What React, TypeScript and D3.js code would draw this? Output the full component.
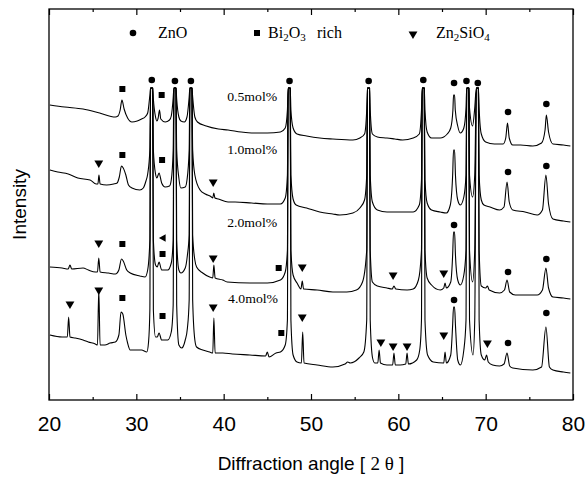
import React, { useEffect, useRef } from 'react';
import * as d3 from 'd3';

// angle (2θ), intensity in arbitrary units (offset stacked traces)
const trace05: [number, number][] = [[20.1,295],[21.8,293],[23.9,291],[25.8,287],[27.6,283],[27.9,284],[28.15,290],[28.35,300],[28.6,291],[29.0,282],[29.5,278],[30.1,279],[30.6,281],[31.0,283],[31.3,287],[31.55,305],[31.63,312],[31.87,312],[31.95,301],[32.2,283],[32.35,279],[32.5,282],[32.65,290],[32.8,281],[33.3,278],[33.8,280],[34.0,284],[34.22,302],[34.3,312],[34.54,312],[34.62,301],[34.87,283],[35.1,279],[35.5,278],[35.8,283],[36.05,303],[36.13,312],[36.37,312],[36.45,303],[36.7,283],[37.0,278],[38.0,274],[39.4,271],[40.5,270],[42.0,268],[43.2,267],[45.0,267],[46.5,268],[47.05,272],[47.3,290],[47.38,312],[47.62,312],[47.7,290],[47.95,272],[48.4,266],[49.5,264],[51.0,262],[52.5,261],[54.8,260],[55.6,262],[56.13,266],[56.38,290],[56.46,312],[56.7,312],[56.78,290],[57.03,266],[57.6,263],[58.7,262],[59.6,261],[60.5,260],[61.7,262],[62.4,266],[62.65,290],[62.73,312],[62.97,312],[63.05,290],[63.3,268],[63.8,262],[64.8,262],[65.6,266],[66.0,272],[66.25,290],[66.32,305],[66.44,305],[66.52,290],[66.8,274],[67.1,267],[67.5,272],[67.75,292],[67.83,312],[68.07,312],[68.15,292],[68.5,274],[68.75,292],[68.93,312],[69.17,312],[69.25,292],[69.5,266],[70.0,258],[71.0,256],[72.0,256],[72.3,262],[72.5,277],[72.7,262],[73.1,255],[74.0,255],[75.4,254],[76.4,257],[76.8,270],[76.95,285],[77.2,268],[77.7,256],[78.9,255],[79.7,254]];

const trace10: [number, number][] = [[20.1,230],[21.0,228],[22.2,226],[23.3,222],[24.7,220],[25.4,216],[25.6,216],[25.72,225],[25.85,216],[26.6,215],[27.4,216],[27.8,217],[28.05,223],[28.3,234],[28.5,232],[28.8,225],[29.1,215],[29.5,212],[30.4,210],[30.8,212],[31.1,219],[31.3,226],[31.55,250],[31.63,312],[31.87,312],[31.95,250],[32.2,226],[32.35,222],[32.6,227],[32.9,217],[33.3,213],[33.8,214],[34.0,220],[34.22,250],[34.3,312],[34.54,312],[34.62,250],[34.87,222],[35.1,212],[35.6,213],[35.8,220],[36.05,250],[36.13,312],[36.37,312],[36.45,250],[36.7,225],[37.3,210],[37.9,206],[38.6,203],[38.75,202],[38.87,207],[39.0,202],[39.4,201],[40.5,198],[41.3,198],[43.2,197],[45.0,196],[46.5,196],[47.05,202],[47.3,225],[47.38,312],[47.62,312],[47.7,225],[47.95,201],[48.3,195],[49.5,192],[51.0,188],[52.5,186],[53.3,185],[54.8,187],[55.6,192],[56.13,200],[56.38,225],[56.46,312],[56.7,312],[56.78,225],[57.03,198],[57.6,190],[58.7,188],[60.5,188],[61.7,188],[62.4,195],[62.65,220],[62.73,312],[62.97,312],[63.05,220],[63.3,197],[63.8,190],[64.8,188],[65.5,187],[65.95,195],[66.22,225],[66.32,250],[66.44,250],[66.54,225],[66.8,200],[67.1,195],[67.5,203],[67.75,225],[67.83,312],[68.07,312],[68.15,225],[68.5,203],[68.75,225],[68.93,312],[69.17,312],[69.25,225],[69.5,200],[69.8,195],[70.5,193],[71.6,190],[72.1,193],[72.45,218],[72.7,198],[73.1,190],[74.5,188],[75.9,185],[76.5,190],[76.9,225],[77.2,196],[77.7,181],[78.9,179],[79.7,178]];

const trace20: [number, number][] = [[20.1,133],[21.5,132],[22.2,131],[22.4,135],[22.6,131],[23.9,132],[24.5,130],[25.3,128],[25.55,128],[25.7,142],[25.85,128],[26.8,127],[27.6,126],[28.0,130],[28.3,141],[28.5,139],[28.9,130],[29.3,127],[30.4,124],[31.0,123],[31.3,130],[31.55,160],[31.63,312],[31.87,312],[31.95,160],[32.2,135],[32.4,133],[32.6,138],[32.9,130],[33.6,130],[34.0,137],[34.22,160],[34.3,312],[34.54,312],[34.62,160],[34.87,130],[35.1,127],[35.6,132],[35.85,145],[36.05,165],[36.13,312],[36.37,312],[36.45,165],[36.7,140],[36.9,133],[37.6,127],[38.4,123],[38.75,122],[38.88,135],[39.02,122],[39.9,120],[40.4,118],[43.0,117],[45.0,117],[46.5,120],[47.05,128],[47.3,150],[47.38,312],[47.62,312],[47.7,150],[47.95,125],[48.4,117],[48.85,111],[49.0,119],[49.15,111],[50.7,110],[52.5,108],[54.1,108],[55.2,110],[55.9,118],[56.38,150],[56.46,312],[56.7,312],[56.78,150],[57.03,118],[57.6,114],[58.7,112],[59.3,111],[59.5,114],[59.7,111],[61.0,110],[61.7,111],[62.3,120],[62.65,150],[62.73,312],[62.97,312],[63.05,150],[63.3,122],[63.8,115],[64.8,110],[65.2,112],[65.35,117],[65.5,112],[66.0,118],[66.22,145],[66.32,168],[66.44,168],[66.54,145],[66.8,120],[67.1,115],[67.5,125],[67.75,150],[67.83,312],[68.07,312],[68.15,150],[68.5,118],[68.75,150],[68.93,312],[69.17,312],[69.25,150],[69.5,114],[70.0,112],[70.2,114],[70.4,110],[71.6,107],[72.15,110],[72.45,120],[72.75,108],[73.4,105],[75.9,105],[76.5,110],[76.9,132],[77.2,112],[77.7,103],[78.9,102],[79.7,101]];

const trace40: [number, number][] = [[20.1,65],[21.5,63],[22.1,63],[22.25,83],[22.4,63],[23.0,62],[23.9,60],[24.5,58],[25.3,56],[25.55,55],[25.7,110],[25.85,55],[26.4,55],[27.0,57],[27.6,58],[28.0,65],[28.25,88],[28.45,86],[28.8,65],[29.0,57],[29.3,50],[30.6,50],[31.2,48],[31.4,58],[31.55,90],[31.63,312],[31.87,312],[31.95,90],[32.2,63],[32.4,63],[32.6,67],[32.9,60],[33.6,60],[34.0,68],[34.22,95],[34.3,312],[34.54,312],[34.62,95],[34.87,55],[35.2,52],[35.6,60],[35.85,72],[36.05,100],[36.13,312],[36.37,312],[36.45,100],[36.7,60],[36.9,53],[37.6,50],[38.4,48],[38.75,47],[38.88,82],[39.02,47],[39.9,47],[41.0,46],[43.0,45],[44.8,44],[45.0,48],[45.2,43],[46.0,47],[46.5,48],[47.05,55],[47.3,80],[47.38,312],[47.62,312],[47.7,80],[47.95,45],[48.4,38],[48.9,37],[49.05,68],[49.2,37],[50.7,35],[52.5,33],[53.9,36],[54.2,38],[54.5,37],[55.5,42],[56.05,48],[56.38,80],[56.46,312],[56.7,312],[56.78,80],[57.05,42],[57.3,37],[57.65,37],[57.8,50],[57.95,37],[58.7,35],[59.35,35],[59.5,47],[59.65,35],[60.2,35],[60.85,36],[61.0,47],[61.15,36],[62.1,40],[62.45,50],[62.65,80],[62.73,312],[62.97,312],[63.05,80],[63.35,45],[64.0,38],[65.2,37],[65.35,48],[65.5,37],[66.0,45],[66.22,75],[66.32,93],[66.44,93],[66.54,75],[66.8,40],[67.1,35],[67.5,50],[67.75,80],[67.83,312],[68.07,312],[68.15,80],[68.55,45],[68.75,80],[68.93,312],[69.17,312],[69.25,80],[69.5,45],[69.9,40],[70.1,45],[70.3,38],[70.8,35],[71.6,34],[72.1,36],[72.45,47],[72.75,34],[73.1,32],[75.4,30],[76.4,33],[76.9,73],[77.3,33],[77.7,30],[78.9,28],[79.7,27]];

const traces = [trace05, trace10, trace20, trace40];

const sampleLabels = ['0.5mol%', '1.0mol%', '2.0mol%', '4.0mol%'];
const sampleLabelPos: [number, number][] = [[40.4, 303], [40.4, 250], [40.4, 177], [40.5, 101]];

// phase markers [angle, intensity]
const znoMarks: [number, number][] = [[31.77,320],[34.42,319],[36.25,319],[47.54,319],[56.6,319],[62.86,320],[66.38,317],[67.8,319],[69.1,317],[72.56,288],[76.95,296],[72.56,228],[76.95,234],[66.38,175],[72.56,128],[76.95,141],[66.38,100],[72.56,57],[76.95,87]];
const biMarks: [number, number][] = [[28.4,311],[32.9,305],[28.4,245],[32.95,240],[28.4,156],[33.0,146],[46.3,132],[28.4,102],[33.0,84],[46.6,67]];
const zsMarks: [number, number][] = [[25.7,237],[38.8,218],[25.7,157],[38.8,142],[49.0,133],[59.4,125],[65.2,127],[22.4,96],[25.7,110],[38.8,93],[49.0,83],[58.0,58],[59.4,54],[61.0,54],[65.2,65],[70.2,57]];
const leftMarks: [number, number][] = [[33.1, 162]];

const majorTicks = [20, 30, 40, 50, 60, 70, 80];
const minorTicks = [25, 35, 45, 55, 65, 75];

const App = () => {
  const ref = useRef<SVGSVGElement>(null);

  useEffect(() => {
    const svg = d3.select(ref.current);
    svg.selectAll('*').remove();
    const margin = { top: 9, right: 15, bottom: 88, left: 49 };
    const width = 588, height = 488;

    const x = d3.scaleLinear().domain([20, 80]).range([margin.left, width - margin.right]);
    const y = d3.scaleLinear().domain([0, 391]).range([height - margin.bottom, margin.top]);
    const bottom = height - margin.bottom;

    // frame
    svg.append('rect')
      .attr('x', margin.left).attr('y', margin.top)
      .attr('width', width - margin.left - margin.right)
      .attr('height', bottom - margin.top)
      .attr('fill', 'none').attr('stroke', '#000').attr('stroke-width', 1.3);

    // bottom axis (ticks inside)
    const gb = svg.append('g').attr('transform', `translate(0,${bottom})`)
      .call(d3.axisBottom(x).tickValues(majorTicks).tickSizeInner(-6).tickSizeOuter(0).tickPadding(16).tickFormat(d3.format('d')));
    gb.select('.domain').remove();
    gb.selectAll('text').attr('font-family', 'Liberation Sans, Arial, sans-serif').attr('font-size', 21).attr('fill', '#000');
    const gbm = svg.append('g').attr('transform', `translate(0,${bottom})`)
      .call(d3.axisBottom(x).tickValues(minorTicks).tickSizeInner(-3).tickSizeOuter(0).tickFormat(() => ''));
    gbm.select('.domain').remove();

    // top axis
    const gt = svg.append('g').attr('transform', `translate(0,${margin.top})`)
      .call(d3.axisTop(x).tickValues(majorTicks).tickSizeInner(-6).tickSizeOuter(0).tickFormat(() => ''));
    gt.select('.domain').remove();
    const gtm = svg.append('g').attr('transform', `translate(0,${margin.top})`)
      .call(d3.axisTop(x).tickValues(minorTicks).tickSizeInner(-3).tickSizeOuter(0).tickFormat(() => ''));
    gtm.select('.domain').remove();
    svg.selectAll('.tick line').attr('stroke', '#000').attr('stroke-width', 1.2);

    // traces
    const line = d3.line<[number, number]>()
      .x(d => x(d[0]))
      .y(d => y(d[1]))
      .curve(d3.curveMonotoneX);
    svg.append('g').selectAll('path')
      .data(traces)
      .join('path')
      .attr('d', d => line(d))
      .attr('fill', 'none')
      .attr('stroke', '#000')
      .attr('stroke-width', 1.1)
      .attr('stroke-linejoin', 'round');

    // sample labels
    svg.append('g').selectAll('text')
      .data(sampleLabels)
      .join('text')
      .attr('x', (d, i) => x(sampleLabelPos[i][0]))
      .attr('y', (d, i) => y(sampleLabelPos[i][1]))
      .attr('dy', '0.35em')
      .attr('font-family', 'Liberation Serif, Times New Roman, serif')
      .attr('font-size', 12)
      .attr('textLength', 50)
      .attr('lengthAdjust', 'spacingAndGlyphs')
      .text(d => d);

    // markers
    svg.append('g').selectAll('circle')
      .data(znoMarks)
      .join('circle')
      .attr('cx', d => x(d[0])).attr('cy', d => y(d[1]))
      .attr('r', 3.3).attr('fill', '#000');
    svg.append('g').selectAll('rect')
      .data(biMarks)
      .join('rect')
      .attr('x', d => x(d[0]) - 3).attr('y', d => y(d[1]) - 3)
      .attr('width', 6).attr('height', 6).attr('fill', '#000');
    const tri = d3.symbol().type(d3.symbolTriangle).size(34);
    svg.append('g').selectAll('path')
      .data(zsMarks)
      .join('path')
      .attr('d', tri)
      .attr('transform', d => `translate(${x(d[0])},${y(d[1])}) rotate(180)`)
      .attr('fill', '#000');
    svg.append('g').selectAll('path')
      .data(leftMarks)
      .join('path')
      .attr('d', d3.symbol().type(d3.symbolTriangle).size(26))
      .attr('transform', d => `translate(${x(d[0])},${y(d[1])}) rotate(-90)`)
      .attr('fill', '#000');

    // legend
    const lg = svg.append('g').attr('font-family', 'Liberation Serif, Times New Roman, serif').attr('font-size', 16);
    lg.append('circle').attr('cx', 133).attr('cy', 33).attr('r', 3.3).attr('fill', '#000');
    lg.append('text').attr('x', 158).attr('y', 38).text('ZnO');
    lg.append('rect').attr('x', 254).attr('y', 30).attr('width', 6).attr('height', 6).attr('fill', '#000');
    const bt = lg.append('text').attr('x', 268).attr('y', 38);
    bt.append('tspan').text('Bi');
    bt.append('tspan').attr('font-size', 11).attr('dy', 3).text('2');
    bt.append('tspan').attr('dy', -3).text('O');
    bt.append('tspan').attr('font-size', 11).attr('dy', 3).text('3');
    lg.append('text').attr('x', 317).attr('y', 38).text('rich');
    lg.append('path').attr('d', tri).attr('transform', 'translate(413,34) rotate(180)').attr('fill', '#000');
    const zt = lg.append('text').attr('x', 436).attr('y', 38);
    zt.append('tspan').text('Zn');
    zt.append('tspan').attr('font-size', 11).attr('dy', 3).text('2');
    zt.append('tspan').attr('dy', -3).text('SiO');
    zt.append('tspan').attr('font-size', 11).attr('dy', 3).text('4');

    // axis titles
    svg.append('text')
      .attr('transform', `translate(26,${(margin.top + bottom) / 2}) rotate(-90)`)
      .attr('text-anchor', 'middle')
      .attr('font-family', 'Liberation Sans, Arial, sans-serif')
      .attr('font-size', 19)
      .text('Intensity');
    const xt = svg.append('text')
      .attr('x', (margin.left + width - margin.right) / 2)
      .attr('y', 470)
      .attr('text-anchor', 'middle')
      .attr('font-family', 'Liberation Sans, Arial, sans-serif')
      .attr('font-size', 19);
    xt.append('tspan').text('Diffraction angle [ ');
    xt.append('tspan').attr('font-family', 'Liberation Serif, serif').text('2 θ');
    xt.append('tspan').text(' ]');
  }, []);

  return (
    <svg ref={ref} width={588} height={488} style={{ position: 'absolute', left: 0, top: 0, background: '#fff' }} />
  );
};

export default App;
